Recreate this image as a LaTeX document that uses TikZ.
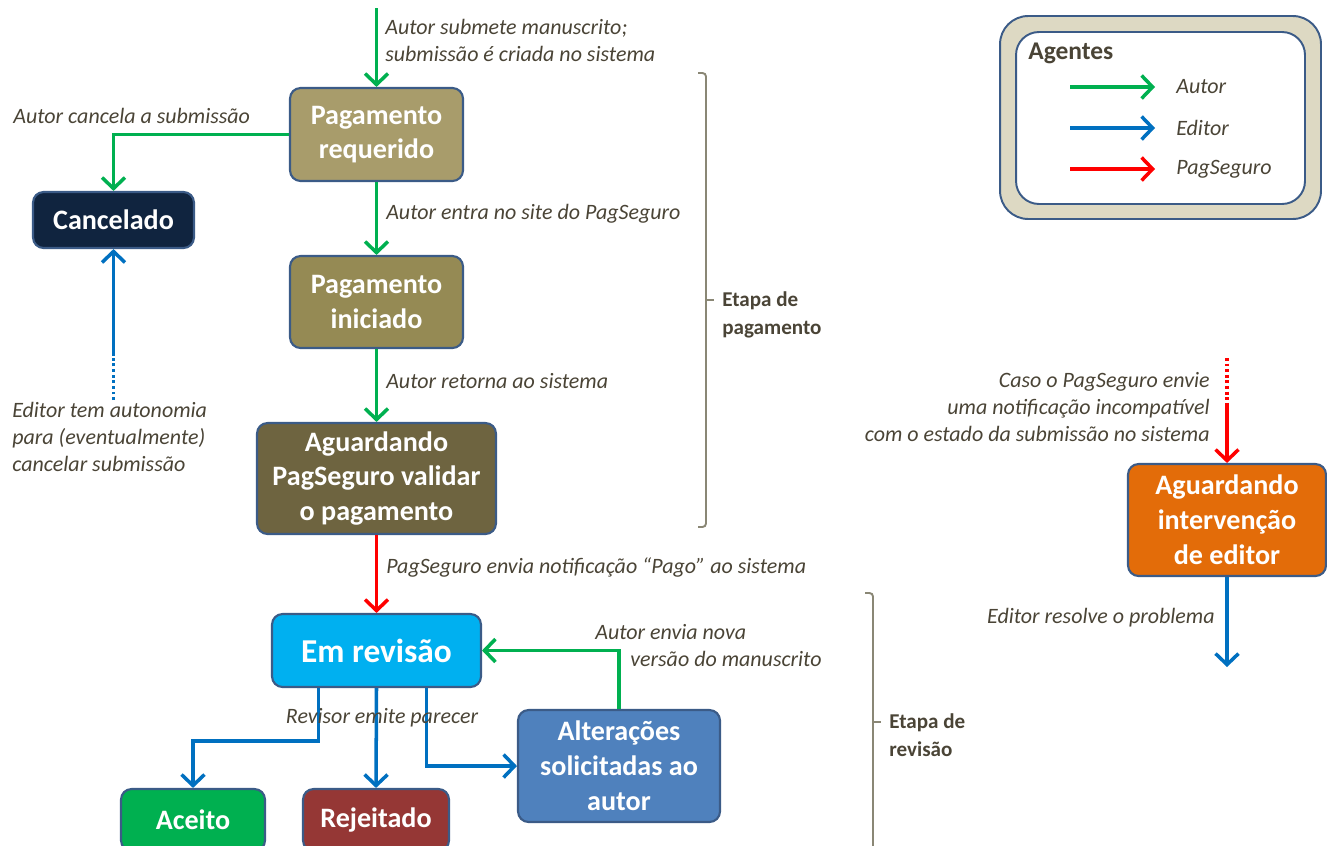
\documentclass[tikz,border=0pt]{standalone}
\usepackage{fontspec}
\setmainfont{Carlito}
\usetikzlibrary{arrows.meta,positioning,calc}

\definecolor{edge}{HTML}{3B5B87}
\definecolor{lbltxt}{HTML}{4A4436}
\definecolor{agreen}{HTML}{00B050}
\definecolor{ablue}{HTML}{0070C0}
\definecolor{ared}{HTML}{FF0000}
\definecolor{brkgray}{HTML}{8A8775}
\definecolor{frame}{HTML}{DDD9C3}
\definecolor{cReq}{HTML}{A89C6B}
\definecolor{cIni}{HTML}{958A54}
\definecolor{cVal}{HTML}{6E6440}
\definecolor{cCanc}{HTML}{10243F}
\definecolor{cRev}{HTML}{00B0F0}
\definecolor{cAce}{HTML}{00B050}
\definecolor{cRej}{HTML}{953735}
\definecolor{cAlt}{HTML}{4F81BD}
\definecolor{cInt}{HTML}{E36C09}

\begin{document}
\begin{tikzpicture}[x=0.02cm,y=-0.02cm,
  >={Straight Barb[length=2.2mm,width=4.6mm]},
  st/.style={draw=edge,line width=1.2pt,rounded corners=6pt,text=white,
    font=\bfseries\fontsize{16}{19.8}\selectfont,align=center,inner sep=2pt},
  lbl/.style={text=lbltxt,font=\itshape\fontsize{12.5}{15.3}\selectfont,inner sep=0pt},
  stage/.style={text=lbltxt,font=\bfseries\fontsize{12}{15.8}\selectfont,inner sep=0pt,align=left},
  gr/.style={->,draw=agreen,line width=2pt},
  bl/.style={->,draw=ablue,line width=2pt},
  rd/.style={->,draw=ared,line width=2pt},
  dots/.style={line width=2pt,dash pattern=on 1.6pt off 1.6pt},
  brk/.style={draw=brkgray,line width=1.1pt,rounded corners=2pt}]

  \useasboundingbox (0,0) rectangle (1327,845);

  % states
  \node[st,fill=cReq,minimum width=3.46cm,minimum height=1.86cm] (req) at (376.5,134.5) {Pagamento\\requerido};
  \node[st,fill=cCanc,minimum width=3.22cm,minimum height=1.12cm] (canc) at (113.5,220) {Cancelado};
  \node[st,fill=cIni,minimum width=3.46cm,minimum height=1.84cm] (ini) at (376.5,302) {Pagamento\\iniciado};
  \node[st,fill=cVal,minimum width=4.78cm,minimum height=2.22cm] (val) at (376.5,478.5) {Aguardando\\PagSeguro validar\\o pagamento};
  \node[st,fill=cRev,minimum width=4.18cm,minimum height=1.46cm,font=\bfseries\fontsize{19}{22}\selectfont] (rev) at (376.5,650.5) {Em revisão};
  \node[st,fill=cAce,minimum width=2.88cm,minimum height=1.24cm] (ace) at (193,820) {Aceito};
  \node[st,fill=cRej,minimum width=2.92cm,minimum height=1.24cm] (rej) at (376,820) {Rejeitado};
  \node[st,fill=cAlt,minimum width=4.04cm,minimum height=2.24cm] (alt) at (619,766) {Alterações\\solicitadas ao\\autor};
  \node[st,fill=cInt,minimum width=3.96cm,minimum height=2.24cm] (int) at (1227,520) {Aguardando\\intervenção\\de editor};

  % payment flow
  \coordinate (src) at (376.5,8);
  \draw[gr] (src) -- (req);
  \node[lbl,anchor=west,align=left] at (385,40.5) {Autor submete manuscrito;\\submissão é criada no sistema};
  \draw[gr] (req) -- node[lbl,pos=0.43,right=0.16cm] {Autor entra no site do PagSeguro} (ini);
  \draw[gr] (ini) -- node[lbl,pos=0.44,right=0.16cm] {Autor retorna ao sistema} (val);
  \draw[rd] (val) -- node[lbl,pos=0.41,right=0.16cm] {PagSeguro envia notificação “Pago” ao sistema} (rev);

  % cancel
  \draw[gr] (req.west) -| (canc.north);
  \node[lbl,anchor=west] at (13,116) {Autor cancela a submissão};
  \coordinate (ed0) at (113.5,400);
  \coordinate (ed1) at (113.5,356);
  \draw[ablue,dots] (ed0) -- (ed1);
  \draw[bl] (ed1) -- (canc.south);
  \node[lbl,anchor=west,align=left] at (12,437) {Editor tem autonomia\\para (eventualmente)\\cancelar submissão};

  % review
  \draw[bl] ($(rev.south)+(-58,0)$) -- ++(0,53) -| (ace.north);
  \draw[bl] (rev.south) -- (rej.north);
  \draw[bl] ($(rev.south)+(50,0)$) |- (alt.west);
  \node[lbl] at (382,718) {Revisor emite parecer};
  \draw[gr] (alt.north) |- (rev.east);
  \node[lbl,anchor=west] at (595,632) {Autor envia nova};
  \node[lbl,anchor=west] at (630,659) {versão do manuscrito};

  % editor intervention
  \coordinate (pg0) at (1227,358);
  \coordinate (pg1) at (1227,403);
  \draw[ared,dots] (pg0) -- (pg1);
  \draw[rd] (pg1) -- (int.north);
  \node[lbl,anchor=east,align=right] at (1210,407) {Caso o PagSeguro envie\\uma notificação incompatível\\com o estado da submissão no sistema};
  \coordinate (fix) at (1227,667);
  \draw[bl] (int.south) -- (fix);
  \node[lbl,anchor=east] at (1215,618) {Editor resolve o problema};

  % stages
  \draw[brk] (698,73) -- (706,73) -- (706,527) -- (698,527);
  \draw[brk] (706,300) -- (714,300);
  \node[stage,anchor=west] at (722,315) {Etapa de\\pagamento};
  \draw[brk] (865,593) -- (873,593) -- (873,860);
  \draw[brk] (873,722) -- (881,722);
  \node[stage,anchor=west] at (889,735) {Etapa de\\revisão};

  % legend
  \node[draw=edge,line width=1.1pt,fill=frame,rounded corners=16pt,minimum width=6.42cm,minimum height=4.06cm] (key) at (1160.5,117.5) {};
  \node[draw=edge,line width=1.1pt,fill=white,rounded corners=13pt,minimum width=5.78cm,minimum height=3.44cm] (keyin) at (1160.5,118) {};
  \node[stage,font=\bfseries\fontsize{14.5}{17}\selectfont,anchor=west] at (1028,53) {Agentes};
  \node[lbl,anchor=west] (kA) at (1176,87) {Autor};
  \node[lbl,anchor=west] (kE) at (1176,128) {Editor};
  \node[lbl,anchor=west] (kP) at (1176,169) {PagSeguro};
  \coordinate (kA0) at (1070,87);
  \coordinate (kE0) at (1070,128);
  \coordinate (kP0) at (1070,169);
  \draw[gr] (kA0) -- ($(kA.west)+(-21,0)$);
  \draw[bl] (kE0) -- ($(kE.west)+(-21,0)$);
  \draw[rd] (kP0) -- ($(kP.west)+(-21,0)$);
\end{tikzpicture}
\end{document}
